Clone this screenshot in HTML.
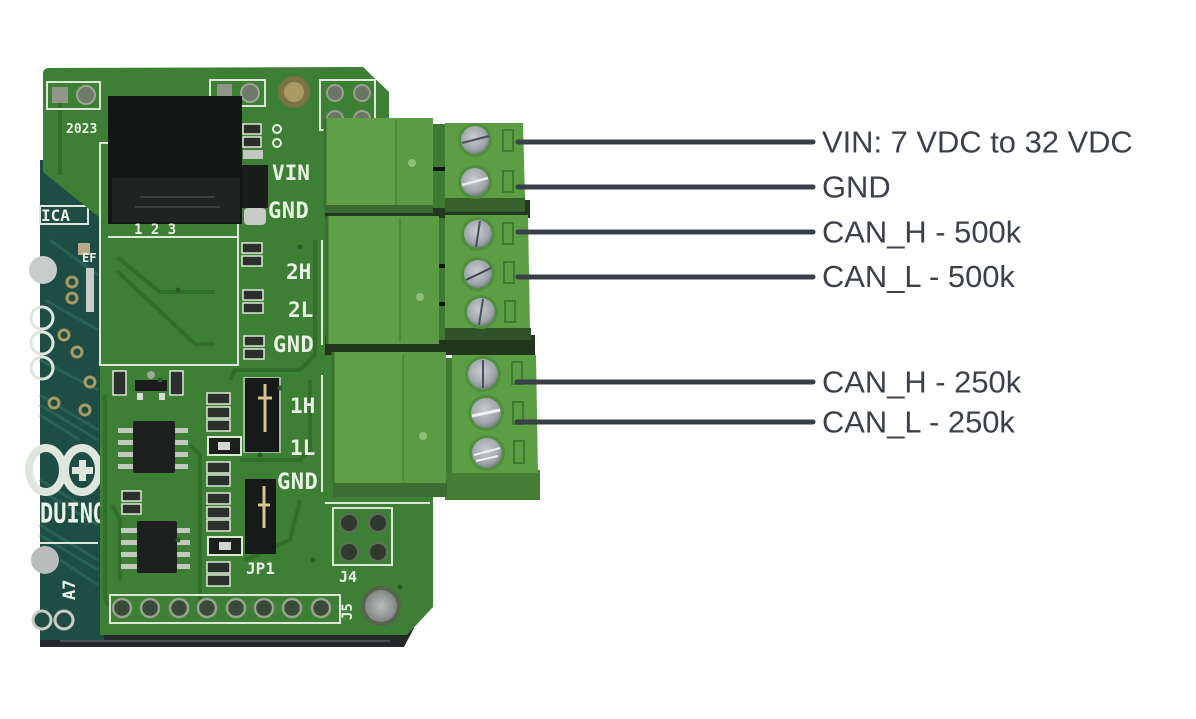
<!DOCTYPE html>
<html><head><meta charset="utf-8"><style>
html,body{margin:0;padding:0;background:#fff;width:1196px;height:719px;overflow:hidden}
svg{display:block}
.silk{font-family:"DejaVu Sans Mono","Liberation Mono",monospace;font-weight:bold;fill:#e9f0e4}
.lbl{font-family:"Liberation Sans",Arial,sans-serif;font-size:30.9px;fill:#3b4049}
</style></head><body>
<svg width="1196" height="719" viewBox="0 0 1196 719" xmlns="http://www.w3.org/2000/svg">
<defs>
<radialGradient id="scr" cx="45%" cy="40%" r="65%">
<stop offset="0" stop-color="#c9cdd0"/><stop offset="0.7" stop-color="#9ea4a8"/><stop offset="1" stop-color="#6d7478"/>
</radialGradient>
<radialGradient id="hole" cx="50%" cy="50%" r="50%">
<stop offset="0" stop-color="#b8bdbd"/><stop offset="1" stop-color="#7f8783"/>
</radialGradient>
</defs>
<rect width="1196" height="719" fill="#fff"/>

<!-- bottom dark strip -->
<path d="M40 628 L414 628 L404 647 L40 647 Z" fill="#24282a"/>
<path d="M60 641 L390 641" stroke="#5a5f5f" stroke-width="1.5"/>

<!-- Arduino base -->
<rect x="40" y="160" width="64" height="480" fill="#1d4d44"/>
<g stroke="#2a6155" stroke-width="3" fill="none">
<path d="M40 395 L98 430 M40 405 L98 440 M40 415 L80 440 M40 480 L98 515 M40 490 L98 525 M40 525 L98 560 M40 535 L98 570 M60 560 L98 585"/>
<path d="M50 240 L98 275 M45 300 L98 330 M40 360 L98 390"/>
</g>
<!-- arduino pads -->
<circle cx="43" cy="270" r="14" fill="#c8cdcb"/>
<g fill="#1d4d44" stroke="#a89a62" stroke-width="3">
<circle cx="72" cy="282" r="5"/><circle cx="72" cy="298" r="5"/><circle cx="64" cy="335" r="5"/><circle cx="77" cy="352" r="5"/><circle cx="90" cy="382" r="5"/><circle cx="54" cy="403" r="5"/><circle cx="85" cy="410" r="5"/>
</g>
<g fill="none" stroke="#dfe6de" stroke-width="3">
<circle cx="42" cy="318" r="11"/><circle cx="42" cy="343" r="11"/><circle cx="42" cy="368" r="11"/>
</g>
<rect x="86" y="268" width="8" height="44" fill="#c7ccc6"/>
<rect x="78" y="243" width="12" height="12" fill="#b7a98a"/>
<text x="82" y="262" class="silk" font-size="12">EF</text>
<rect x="40" y="206" width="48" height="18" fill="#1d4d44" stroke="#dfe6de" stroke-width="2"/>
<text x="41" y="221" class="silk" font-size="16">ICA</text>
<!-- logo -->
<ellipse cx="82" cy="470" rx="17" ry="22" fill="none" stroke="#dfe6de" stroke-width="8"/>
<ellipse cx="46" cy="470" rx="17" ry="22" fill="none" stroke="#dfe6de" stroke-width="8"/>
<rect x="79" y="460" width="7" height="21" fill="#dfe6de"/><rect x="72" y="467" width="21" height="7" fill="#dfe6de"/>
<text x="40" y="522" class="silk" font-size="22" transform="translate(0,-130) scale(1,1.25)">DUINO</text>
<path d="M40 543 L98 543" stroke="#dfe6de" stroke-width="2"/>
<circle cx="45" cy="560" r="14" fill="#b9bebc"/>
<text x="0" y="0" class="silk" font-size="17" transform="translate(75,600) rotate(-90)">A7</text>
<g fill="#1d4d44" stroke="#c9ccc4" stroke-width="3">
<circle cx="42" cy="620" r="9"/><circle cx="64" cy="620" r="9"/>
</g>

<!-- shield board -->
<path d="M43 74 Q43 68 49 68 L363 67 L389 92 L389 150 L433 150 L433 607 L407 635 L100 635 L100 218 L43 172 Z" fill="#3d7f35"/>
<!-- copper traces -->
<g stroke="#336d2b" stroke-width="4" fill="none">
<path d="M117 257 L160 292 L215 292"/>
<path d="M117 271 L195 344 L215 344"/>
<path d="M105 395 L105 600 L115 612"/>
<path d="M190 445 L200 455 L200 600"/>
<path d="M230 380 L235 370 L300 370 L315 355 L315 240"/>
<path d="M240 460 L300 460 L310 450 L310 380"/>
<path d="M245 560 L290 540 L300 500"/>
<path d="M112 505 L120 520 L120 580"/>
<path d="M60 175 L60 90"/>
</g>
<!-- silk outlines -->
<g fill="none" stroke="#dce8d6" stroke-width="2">
<rect x="100" y="143" width="138" height="222"/>
<path d="M108 237 L238 237"/>
<rect x="47" y="82" width="53" height="27"/>
<rect x="210" y="80" width="55" height="26"/>
<rect x="320" y="80" width="55" height="50"/>
<path d="M322 240 L322 345 M322 375 L322 492 M325 503 L430 503 M330 125 L330 210"/>
<rect x="333" y="508" width="59" height="57"/>
<rect x="110" y="595" width="230" height="28"/>
</g>
<!-- top pads -->
<rect x="52" y="87" width="16" height="16" fill="#8d9687"/>
<circle cx="86" cy="95" r="9" fill="#6f7a6a" stroke="#9da696" stroke-width="2"/>
<rect x="217" y="84" width="15" height="15" fill="#8d9687"/>
<circle cx="250" cy="93" r="9" fill="#6f7a6a" stroke="#9da696" stroke-width="2"/>
<text x="66" y="133" class="silk" font-size="13">2023</text>
<!-- mounting hole top -->
<circle cx="294" cy="92" r="16" fill="#7b7440"/>
<circle cx="294" cy="92" r="10" fill="#a89a62"/>
<!-- J6 pads -->
<g fill="#6b7566" stroke="#9aa090" stroke-width="2">
<circle cx="335" cy="93" r="8"/><circle cx="362" cy="93" r="8"/><circle cx="335" cy="119" r="8"/><circle cx="362" cy="119" r="8"/>
</g>
<!-- relay -->
<rect x="108" y="96" width="134" height="128" fill="#141515"/>
<rect x="112" y="178" width="128" height="44" fill="#1e2421"/>
<path d="M140 197 L215 197 M135 207 L220 207" stroke="#3a403d" stroke-width="2"/>
<text x="134" y="234" class="silk" font-size="14">1  2  3</text>
<!-- near relay parts -->
<rect x="243" y="124" width="18" height="10" fill="#2a2d2a" stroke="#dce8d6" stroke-width="1.5"/>
<rect x="243" y="137" width="18" height="10" fill="#2a2d2a" stroke="#dce8d6" stroke-width="1.5"/>
<rect x="243" y="150" width="20" height="9" fill="#c3c8c0"/>
<circle cx="277" cy="129" r="4" fill="none" stroke="#e6ede2" stroke-width="2"/>
<circle cx="277" cy="143" r="4" fill="none" stroke="#e6ede2" stroke-width="2"/>
<rect x="242" y="165" width="26" height="43" fill="#1a1c1b"/>
<rect x="244" y="208" width="22" height="17" rx="4" fill="#c6cbc5"/>
<!-- LEDs -->
<g fill="#2c302c" stroke="#dce8d6" stroke-width="1.5">
<rect x="242" y="243" width="20" height="10"/><rect x="242" y="256" width="20" height="10"/>
<rect x="243" y="290" width="20" height="10"/><rect x="243" y="303" width="20" height="10"/>
<rect x="244" y="336" width="20" height="10"/><rect x="244" y="349" width="20" height="10"/>
</g>
<!-- silk labels -->
<text x="272" y="180" class="silk" font-size="21">VIN</text>
<text x="268" y="218" class="silk" font-size="22" letter-spacing="0.5">GND</text>
<text x="286" y="279" class="silk" font-size="21">2H</text>
<text x="288" y="317" class="silk" font-size="21">2L</text>
<text x="273" y="352" class="silk" font-size="22" letter-spacing="0.5">GND</text>
<text x="290" y="413" class="silk" font-size="21">1H</text>
<text x="290" y="455" class="silk" font-size="21">1L</text>
<text x="277" y="489" class="silk" font-size="22" letter-spacing="0.5">GND</text>
<text x="246" y="574" class="silk" font-size="16">JP1</text>
<text x="339" y="582" class="silk" font-size="15">J4</text>
<text x="0" y="0" class="silk" font-size="14" transform="translate(352,620) rotate(-90)">J5</text>
<!-- SOT23 and small -->
<rect x="135" y="380" width="32" height="11" fill="#1a1b1a"/>
<circle cx="151" cy="375" r="4" fill="#9fa89a"/>
<rect x="137" y="393" width="6" height="7" fill="#d7dbd4"/><rect x="159" y="393" width="6" height="7" fill="#d7dbd4"/>
<g fill="#2c302c" stroke="#dce8d6" stroke-width="1.5">
<rect x="113" y="371" width="13" height="24"/><rect x="170" y="371" width="13" height="24"/>
<rect x="122" y="491" width="19" height="10"/><rect x="122" y="504" width="19" height="10"/>
<rect x="207" y="393" width="23" height="11"/><rect x="207" y="407" width="23" height="11"/><rect x="207" y="420" width="23" height="11"/>
<rect x="207" y="462" width="23" height="11"/><rect x="207" y="475" width="23" height="11"/>
<rect x="207" y="493" width="23" height="11"/><rect x="207" y="507" width="23" height="11"/><rect x="207" y="520" width="23" height="11"/>
<rect x="207" y="562" width="23" height="11"/><rect x="207" y="575" width="23" height="11"/>
</g>
<g fill="#1d1f1d" stroke="#dce8d6" stroke-width="2">
<rect x="208" y="437" width="33" height="18"/><rect x="208" y="537" width="34" height="18"/>
</g>
<rect x="218" y="442" width="12" height="8" fill="#d2d6cf"/><rect x="219" y="542" width="12" height="8" fill="#d2d6cf"/>
<!-- ICs -->
<g fill="#c3c8bf">
<rect x="118" y="428" width="16" height="5"/><rect x="118" y="440" width="16" height="5"/><rect x="118" y="452" width="16" height="5"/><rect x="118" y="464" width="16" height="5"/>
<rect x="174" y="428" width="14" height="5"/><rect x="174" y="440" width="14" height="5"/><rect x="174" y="452" width="14" height="5"/><rect x="174" y="464" width="14" height="5"/>
<rect x="121" y="528" width="17" height="5"/><rect x="121" y="540" width="17" height="5"/><rect x="121" y="552" width="17" height="5"/><rect x="121" y="564" width="17" height="5"/>
<rect x="176" y="528" width="14" height="5"/><rect x="176" y="540" width="14" height="5"/><rect x="176" y="552" width="14" height="5"/><rect x="176" y="564" width="14" height="5"/>
</g>
<rect x="133" y="421" width="42" height="52" rx="2" fill="#1e201f"/>
<rect x="137" y="521" width="40" height="52" rx="2" fill="#1e201f"/>
<!-- jumpers -->
<rect x="243" y="377" width="38" height="76" fill="#dce8d6" opacity="0.6"/>
<rect x="245" y="378" width="34" height="74" fill="#181a19"/>
<path d="M265 384 L265 432 M258 398 L272 398" stroke="#d8c48a" stroke-width="3"/>
<rect x="245" y="479" width="31" height="75" fill="#181a19"/>
<path d="M264 486 L264 528 M258 505 L270 505" stroke="#d8c48a" stroke-width="3"/>
<!-- J4 pads -->
<g fill="#2e3a2c" stroke="#5f6e5a" stroke-width="2">
<circle cx="349" cy="523" r="9"/><circle cx="378" cy="523" r="9"/><circle cx="349" cy="552" r="9"/><circle cx="378" cy="552" r="9"/>
</g>
<!-- J5 pads -->
<g fill="#3a4a38" stroke="#98a38f" stroke-width="2.5">
<circle cx="122" cy="608" r="9"/><circle cx="150" cy="608" r="9"/><circle cx="179" cy="608" r="9"/><circle cx="207" cy="608" r="9"/><circle cx="236" cy="608" r="9"/><circle cx="264" cy="608" r="9"/><circle cx="292" cy="608" r="9"/><circle cx="321" cy="608" r="9"/>
</g>
<!-- bottom mounting hole -->
<circle cx="381" cy="606" r="20" fill="#55634f"/>
<circle cx="381" cy="606" r="16" fill="url(#hole)"/>
<!-- vias -->
<g fill="#2a5a25"><circle cx="300" cy="247" r="2.5"/><circle cx="280" cy="388" r="2.5"/><circle cx="313" cy="560" r="2.5"/><circle cx="400" cy="587" r="2.5"/><circle cx="178" cy="290" r="2.5"/><circle cx="160" cy="380" r="2.5"/><circle cx="178" cy="540" r="2.5"/><circle cx="260" cy="455" r="2.5"/></g>

<!-- ===== Terminal block 1 ===== -->
<rect x="325" y="200" width="205" height="18" fill="#24381f"/>
<rect x="432" y="124" width="16" height="84" fill="#3e7a31"/>
<rect x="432" y="167" width="16" height="4" fill="#10180e"/>
<rect x="325" y="118" width="72" height="90" fill="#5fa047"/>
<rect x="396" y="118" width="37" height="90" fill="#5b9b43"/>
<path d="M396 120 L396 206" stroke="#4c8a39" stroke-width="2"/>
<circle cx="412" cy="163" r="4" fill="#8fbf78"/>
<path d="M325 118 L325 208" stroke="#3b6f2f" stroke-width="3"/>
<rect x="325" y="205" width="108" height="8" fill="#3b6a30"/>
<path d="M445 123 L523 123 L525 198 L445 198 Z" fill="#5c9e44"/>
<rect x="445" y="198" width="80" height="14" fill="#375f2c"/>
<circle cx="475" cy="140" r="17" fill="#4f8e3c"/>
<circle cx="475" cy="182" r="17" fill="#4f8e3c"/>
<circle cx="475" cy="140" r="14" fill="url(#scr)"/>
<circle cx="475" cy="182" r="14" fill="url(#scr)"/>
<path d="M462 143 L489 136" stroke="#45505a" stroke-width="2"/>
<path d="M462 185 L488 178" stroke="#e9ecee" stroke-width="2.5"/>
<rect x="503" y="130" width="10" height="21" fill="#5c9e44" stroke="#3e7a31" stroke-width="2"/>
<rect x="503" y="171" width="10" height="21" fill="#5c9e44" stroke="#3e7a31" stroke-width="2"/>

<!-- ===== Terminal block 2 ===== -->
<rect x="325" y="335" width="210" height="20" fill="#22351d"/>
<rect x="438" y="218" width="10" height="122" fill="#3e7a31"/>
<rect x="438" y="264" width="10" height="4" fill="#10180e"/><rect x="438" y="302" width="10" height="4" fill="#10180e"/>
<rect x="327" y="216" width="74" height="128" fill="#5fa047"/>
<rect x="400" y="216" width="39" height="128" fill="#5b9b43"/>
<path d="M400 218 L400 342" stroke="#4c8a39" stroke-width="2"/>
<circle cx="420" cy="297" r="4" fill="#8fbf78"/>
<path d="M327 216 L327 344" stroke="#3b6f2f" stroke-width="3"/>
<path d="M445 215 L528 215 L530 330 L445 330 Z" fill="#5c9e44"/>
<rect x="445" y="328" width="86" height="12" fill="#30512a"/>
<circle cx="478" cy="234" r="17" fill="#4f8e3c"/>
<circle cx="478" cy="274" r="17" fill="#4f8e3c"/>
<circle cx="481" cy="312" r="17" fill="#4f8e3c"/>
<circle cx="478" cy="234" r="14" fill="url(#scr)"/>
<circle cx="478" cy="274" r="14" fill="url(#scr)"/>
<circle cx="481" cy="312" r="14" fill="url(#scr)"/>
<path d="M480 221 L476 247" stroke="#45505a" stroke-width="2"/>
<path d="M466 280 L491 268" stroke="#3d464e" stroke-width="2"/>
<path d="M483 299 L479 325" stroke="#45505a" stroke-width="2"/>
<rect x="503" y="223" width="10" height="21" fill="#5c9e44" stroke="#3e7a31" stroke-width="2"/>
<rect x="504" y="262" width="10" height="21" fill="#5c9e44" stroke="#3e7a31" stroke-width="2"/>
<rect x="505" y="301" width="10" height="21" fill="#5c9e44" stroke="#3e7a31" stroke-width="2"/>

<!-- ===== Terminal block 3 ===== -->
<rect x="445" y="470" width="95" height="30" fill="#457d35"/>
<rect x="333" y="480" width="114" height="17" fill="#3c6c31"/>
<rect x="445" y="358" width="10" height="115" fill="#3e7a31"/>
<rect x="333" y="352" width="72" height="131" fill="#5fa047"/>
<rect x="403" y="352" width="43" height="131" fill="#5b9b43"/>
<path d="M403 354 L403 481" stroke="#4c8a39" stroke-width="2"/>
<circle cx="423" cy="436" r="4" fill="#8fbf78"/>
<path d="M333 352 L333 483" stroke="#3b6f2f" stroke-width="3"/>
<path d="M452 355 L536 355 L538 473 L452 473 Z" fill="#5c9e44"/>
<circle cx="483" cy="374" r="18" fill="#4f8e3c"/>
<circle cx="486" cy="413" r="18" fill="#4f8e3c"/>
<circle cx="487" cy="453" r="18" fill="#4f8e3c"/>
<circle cx="483" cy="374" r="15" fill="url(#scr)"/>
<circle cx="486" cy="413" r="15" fill="url(#scr)"/>
<circle cx="487" cy="453" r="15" fill="url(#scr)"/>
<path d="M483 360 L483 388" stroke="#45505a" stroke-width="2"/>
<path d="M472 416 L500 410" stroke="#eef0f1" stroke-width="3"/>
<path d="M474 455 L500 448 M476 461 L498 456" stroke="#eef0f1" stroke-width="2"/>
<rect x="512" y="362" width="10" height="22" fill="#5c9e44" stroke="#3e7a31" stroke-width="2"/>
<rect x="513" y="402" width="10" height="22" fill="#5c9e44" stroke="#3e7a31" stroke-width="2"/>
<rect x="514" y="441" width="10" height="22" fill="#5c9e44" stroke="#3e7a31" stroke-width="2"/>

<!-- ===== Callout lines ===== -->
<g stroke="#3a3f47" stroke-width="5" stroke-linecap="round">
<line x1="518" y1="142" x2="813" y2="142"/>
<line x1="518" y1="187" x2="813" y2="187"/>
<line x1="518" y1="232" x2="813" y2="232"/>
<line x1="518" y1="277" x2="813" y2="277"/>
<line x1="517" y1="382" x2="813" y2="382"/>
<line x1="517" y1="422" x2="813" y2="422"/>
</g>
<text x="822" y="152.5" class="lbl">VIN: 7 VDC to 32 VDC</text>
<text x="822" y="197.5" class="lbl">GND</text>
<text x="822" y="242.5" class="lbl">CAN_H - 500k</text>
<text x="822" y="287" class="lbl">CAN_L - 500k</text>
<text x="822" y="392.5" class="lbl">CAN_H - 250k</text>
<text x="822" y="432.5" class="lbl">CAN_L - 250k</text>
</svg>
</body></html>
